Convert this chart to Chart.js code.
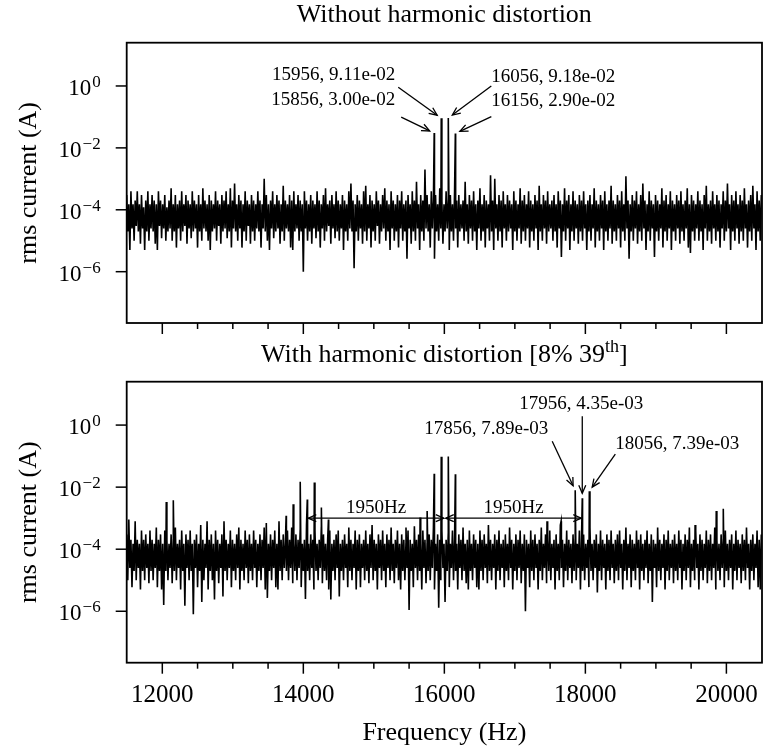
<!DOCTYPE html>
<html>
<head>
<meta charset="utf-8">
<script src="https://cdn.jsdelivr.net/npm/chart.js@4.4.0/dist/chart.umd.min.js"></script>
<style>
    html, body { margin: 0; padding: 0; background: #ffffff; }
    #topBox { position: absolute; left: 0; top: 0; }
    #bottomBox { position: absolute; left: 0; top: 340px; }
</style>
</head>
<body>
<div id="topBox"><canvas id="spectrumTop" width="763" height="340"></canvas></div>
<div id="bottomBox"><canvas id="spectrumBottom" width="763" height="409"></canvas></div>
<script>
// noise floor is sampled every 15 Hz starting at 11495 Hz
var noiseStartHz = 11495;
var noiseStepHz = 15;

// rms current (A) of the noise floor
var noiseTop = [
    3e-4,2e-5,15e-5,5e-6,4e-4,25e-6,15e-5,1e-5,2e-4,3e-5,4e-4,2e-5,15e-5,8e-6,3e-4,25e-6,12e-5,5e-6,2e-4,2e-5,
    4e-4,1e-5,15e-5,25e-6,3e-4,2e-5,2e-4,8e-6,15e-5,5e-6,4e-4,3e-5,2e-4,12e-6,15e-5,25e-6,3e-4,1e-5,12e-5,2e-5,
    2e-4,25e-6,5e-4,1e-5,15e-5,2e-5,3e-4,6e-6,15e-5,25e-6,2e-4,1e-5,4e-4,2e-5,15e-5,3e-5,3e-4,8e-6,2e-4,25e-6,
    15e-5,12e-6,4e-4,2e-5,2e-4,25e-6,15e-5,6e-6,3e-4,2e-5,15e-5,1e-5,5e-4,25e-6,2e-4,2e-5,15e-5,1e-5,3e-4,5e-6,
    2e-4,2e-5,15e-5,25e-6,4e-4,1e-5,2e-4,3e-5,15e-5,8e-6,3e-4,2e-5,2e-4,25e-6,4e-4,12e-6,15e-5,2e-5,5e-4,6e-6,
    2e-4,25e-6,7e-4,2e-5,15e-5,1e-5,3e-4,25e-6,2e-4,6e-6,15e-5,2e-5,4e-4,1e-5,2e-4,3e-5,15e-5,8e-6,3e-4,2e-5,
    2e-4,1e-5,15e-5,25e-6,4e-4,2e-5,2e-4,6e-6,15e-5,25e-6,1e-3,2e-5,3e-4,1e-5,15e-5,5e-6,2e-4,25e-6,4e-4,12e-6,
    15e-5,2e-5,3e-4,25e-6,2e-4,8e-6,15e-5,2e-5,6e-4,1e-5,2e-4,25e-6,15e-5,2e-5,3e-4,6e-6,2e-4,5e-6,4e-4,2e-5,
    15e-5,25e-6,3e-4,1e-5,2e-4,2e-5,15e-5,1e-6,4e-4,25e-6,2e-4,1e-5,15e-5,2e-5,3e-4,8e-6,2e-4,25e-6,15e-5,12e-6,
    4e-4,2e-5,2e-4,6e-6,15e-5,25e-6,3e-4,1e-5,5e-4,2e-5,15e-5,3e-5,2e-4,8e-6,3e-4,25e-6,15e-5,12e-6,4e-4,2e-5,
    2e-4,1e-5,15e-5,25e-6,3e-4,5e-6,2e-4,2e-5,15e-5,1e-5,4e-4,25e-6,7e-4,2e-5,2e-4,13e-7,15e-5,2e-5,3e-4,1e-5,
    2e-4,25e-6,15e-5,8e-6,4e-4,2e-5,6e-4,1e-5,15e-5,25e-6,3e-4,6e-6,2e-4,2e-5,15e-5,1e-5,4e-4,3e-5,2e-4,8e-6,
    15e-5,2e-5,3e-4,25e-6,5e-4,1e-5,2e-4,2e-5,15e-5,5e-6,4e-4,25e-6,2e-4,1e-5,15e-5,2e-5,3e-4,6e-6,2e-4,25e-6,
    4e-4,1e-5,15e-5,2e-5,2e-4,26e-7,3e-4,25e-6,15e-5,8e-6,4e-4,2e-5,2e-4,1e-5,8e-4,25e-6,15e-5,5e-6,3e-4,2e-5,
    2e-4,1e-5,2e-3,25e-6,3e-4,2e-5,15e-5,6e-6,4e-4,25e-6,2e-4,26e-7,3e-4,2e-5,15e-5,1e-5,5e-4,25e-6,2e-4,8e-6,
    15e-5,2e-5,4e-4,25e-6,2e-4,5e-6,3e-4,2e-5,15e-5,1e-5,4e-4,25e-6,2e-4,6e-6,3e-4,2e-5,15e-5,25e-6,2e-4,1e-5,
    8e-4,2e-5,15e-5,8e-6,3e-4,25e-6,2e-4,1e-5,4e-4,2e-5,15e-5,5e-6,2e-4,25e-6,5e-4,1e-5,15e-5,2e-5,3e-4,6e-6,
    2e-4,25e-6,15e-5,1e-5,13e-4,2e-5,2e-4,5e-6,1e-3,25e-6,15e-5,1e-5,3e-4,2e-5,2e-4,6e-6,4e-4,25e-6,15e-5,1e-5,
    3e-4,2e-5,2e-4,25e-6,15e-5,5e-6,4e-4,2e-5,2e-4,1e-5,15e-5,25e-6,5e-4,8e-6,2e-4,2e-5,3e-4,1e-5,15e-5,25e-6,
    4e-4,6e-6,2e-4,2e-5,15e-5,1e-5,3e-4,25e-6,2e-4,5e-6,6e-4,2e-5,15e-5,1e-5,3e-4,25e-6,2e-4,8e-6,4e-4,2e-5,
    15e-5,25e-6,2e-4,1e-5,3e-4,2e-5,15e-5,6e-6,4e-4,25e-6,2e-4,3e-6,15e-5,2e-5,5e-4,1e-5,2e-4,25e-6,3e-4,5e-6,
    15e-5,2e-5,4e-4,1e-5,2e-4,25e-6,15e-5,8e-6,3e-4,2e-5,2e-4,1e-5,4e-4,25e-6,15e-5,5e-6,2e-4,2e-5,3e-4,1e-5,
    15e-5,25e-6,5e-4,6e-6,2e-4,2e-5,15e-5,1e-5,3e-4,25e-6,2e-4,5e-6,4e-4,2e-5,15e-5,1e-5,2e-4,25e-6,6e-4,8e-6,
    2e-4,2e-5,15e-5,1e-5,3e-4,25e-6,2e-4,6e-6,4e-4,2e-5,15e-5,1e-5,12e-4,25e-6,2e-4,26e-7,15e-5,2e-5,3e-4,1e-5,
    2e-4,25e-6,4e-4,8e-6,15e-5,2e-5,3e-4,1e-5,7e-4,25e-6,2e-4,5e-6,15e-5,2e-5,4e-4,1e-5,2e-4,25e-6,15e-5,3e-6,
    3e-4,2e-5,2e-4,1e-5,15e-5,25e-6,5e-4,6e-6,2e-4,2e-5,3e-4,1e-5,15e-5,25e-6,4e-4,5e-6,2e-4,2e-5,15e-5,1e-5,
    3e-4,25e-6,2e-4,8e-6,4e-4,2e-5,15e-5,1e-5,2e-4,25e-6,5e-4,6e-6,15e-5,4e-6,3e-4,2e-5,2e-4,1e-5,15e-5,25e-6,
    4e-4,1e-5,2e-4,2e-5,15e-5,5e-6,3e-4,25e-6,6e-4,1e-5,15e-5,2e-5,2e-4,8e-6,4e-4,25e-6,15e-5,1e-5,3e-4,2e-5,
    2e-4,6e-6,15e-5,25e-6,4e-4,1e-5,2e-4,2e-5,7e-4,25e-6,15e-5,5e-6,3e-4,2e-5,2e-4,1e-5,4e-4,25e-6,15e-5,8e-6,
    3e-4,2e-5,2e-4,1e-5,5e-4,25e-6,15e-5,6e-6,2e-4,2e-5,3e-4,1e-5,6e-4,25e-6,15e-5,5e-6,4e-4,2e-5,2e-4,1e-5,
    3e-4
];

// rms current (A) of the noise floor
var noiseBottom = [
    3e-4,1e-5,9e-4,25e-6,2e-4,6e-6,15e-5,2e-5,8e-4,1e-5,2e-4,25e-6,15e-5,5e-6,4e-4,2e-5,2e-4,1e-5,3e-4,25e-6,
    15e-5,8e-6,4e-4,2e-5,2e-4,1e-5,15e-5,25e-6,5e-4,6e-6,2e-4,2e-5,3e-4,5e-6,15e-5,16e-7,4e-4,2e-5,2e-4,1e-5,
    15e-5,25e-6,3e-4,8e-6,2e-4,2e-5,5e-4,1e-5,15e-5,25e-6,2e-4,5e-6,4e-4,2e-5,15e-5,15e-7,3e-4,25e-6,2e-4,1e-5,
    4e-4,2e-5,15e-5,8e-7,2e-4,25e-6,3e-4,6e-6,15e-5,2e-5,6e-4,2e-6,2e-4,1e-5,15e-5,25e-6,8e-4,5e-6,2e-4,2e-5,
    3e-4,1e-5,15e-5,24e-7,4e-4,2e-5,2e-4,8e-6,15e-5,25e-6,3e-4,3e-6,8e-4,2e-5,2e-4,1e-5,15e-5,25e-6,4e-4,6e-6,
    2e-4,2e-5,15e-5,1e-5,3e-4,25e-6,5e-4,5e-6,2e-4,2e-5,15e-5,1e-5,4e-4,25e-6,2e-4,8e-6,3e-4,2e-5,15e-5,1e-5,
    4e-4,25e-6,2e-4,6e-6,15e-5,2e-5,3e-4,1e-5,2e-4,25e-6,5e-4,5e-6,7e-4,27e-7,15e-5,2e-5,3e-4,1e-5,2e-4,25e-6,
    4e-4,6e-6,15e-5,5e-6,8e-4,2e-5,2e-4,1e-5,3e-4,25e-6,15e-5,2e-5,4e-4,1e-5,2e-4,25e-6,5e-4,8e-6,15e-5,2e-5,
    3e-4,1e-5,2e-4,25e-6,4e-4,6e-6,15e-5,2e-5,2e-4,25e-7,6e-4,2e-5,15e-5,1e-5,3e-4,25e-6,2e-4,5e-6,4e-4,2e-5,
    15e-5,1e-5,2e-4,25e-6,5e-4,8e-6,3e-4,2e-5,15e-5,1e-5,2e-4,5e-6,4e-4,24e-7,15e-5,2e-5,2e-4,1e-5,3e-4,25e-6,
    4e-4,3e-6,15e-5,2e-5,2e-4,1e-5,3e-4,25e-6,15e-5,6e-6,5e-4,2e-5,2e-4,1e-5,15e-5,25e-6,4e-4,5e-6,2e-4,2e-5,
    3e-4,6e-6,15e-5,25e-6,2e-4,1e-5,4e-4,2e-5,15e-5,8e-6,3e-4,25e-6,6e-4,1e-5,2e-4,2e-5,15e-5,5e-6,3e-4,25e-6,
    2e-4,1e-5,4e-4,2e-5,15e-5,6e-6,3e-4,25e-6,2e-4,1e-5,5e-4,2e-5,15e-5,8e-6,2e-4,25e-6,4e-4,1e-5,15e-5,5e-6,
    3e-4,2e-5,2e-4,1e-5,15e-5,25e-6,4e-4,11e-7,2e-4,2e-5,15e-5,6e-6,55e-5,25e-6,2e-4,1e-5,3e-4,2e-5,15e-5,5e-6,
    4e-4,25e-6,2e-4,8e-6,15e-5,2e-5,3e-4,1e-5,2e-4,25e-6,5e-4,5e-6,15e-5,2e-5,3e-4,13e-7,2e-4,1e-5,4e-4,25e-6,
    15e-5,2e-6,2e-4,2e-5,3e-4,6e-6,15e-5,25e-6,4e-4,1e-5,2e-4,2e-5,15e-5,5e-6,3e-4,25e-6,2e-4,1e-5,5e-4,2e-5,
    15e-5,8e-6,2e-4,5e-6,4e-4,2e-5,15e-5,1e-5,3e-4,25e-6,2e-4,6e-6,15e-5,5e-6,4e-4,2e-5,2e-4,1e-5,3e-4,25e-6,
    15e-5,8e-6,6e-4,2e-5,2e-4,1e-5,15e-5,25e-6,3e-4,5e-6,2e-4,2e-5,4e-4,1e-5,15e-5,25e-6,2e-4,6e-6,3e-4,2e-5,
    15e-5,1e-5,5e-4,25e-6,2e-4,5e-6,15e-5,2e-5,3e-4,1e-5,2e-4,25e-6,4e-4,8e-6,15e-5,2e-5,3e-4,1e-6,2e-4,25e-6,
    15e-5,6e-6,4e-4,2e-5,2e-4,1e-5,3e-4,25e-6,15e-5,5e-6,2e-4,2e-5,5e-4,1e-5,15e-5,25e-6,3e-4,8e-6,2e-4,2e-5,
    4e-4,1e-5,15e-5,25e-6,2e-4,5e-6,3e-4,2e-5,15e-5,1e-5,6e-4,25e-6,2e-4,6e-6,15e-5,2e-5,4e-4,1e-5,2e-4,25e-6,
    15e-5,8e-6,3e-4,2e-5,2e-4,1e-5,15e-5,25e-6,4e-4,5e-6,2e-4,2e-5,3e-4,1e-5,15e-5,25e-6,2e-4,6e-6,5e-4,2e-5,
    15e-5,1e-5,2e-4,25e-6,3e-4,4e-6,15e-5,2e-5,4e-4,1e-5,2e-4,25e-6,15e-5,5e-6,3e-4,2e-5,2e-4,1e-5,4e-4,25e-6,
    15e-5,8e-6,2e-4,2e-5,3e-4,1e-5,4e-4,25e-6,15e-5,5e-6,2e-4,2e-5,5e-4,1e-5,15e-5,25e-6,3e-4,6e-6,2e-4,2e-5,
    15e-5,1e-5,4e-4,25e-6,2e-4,5e-6,3e-4,2e-5,15e-5,1e-5,2e-4,25e-6,4e-4,8e-6,15e-5,2e-5,3e-4,2e-6,2e-4,25e-6,
    15e-5,6e-6,5e-4,2e-5,2e-4,1e-5,15e-5,25e-6,3e-4,5e-6,2e-4,2e-5,4e-4,1e-5,15e-5,25e-6,2e-4,8e-6,3e-4,2e-5,
    15e-5,1e-5,4e-4,25e-6,2e-4,5e-6,15e-5,2e-5,3e-4,1e-5,2e-4,25e-6,5e-4,6e-6,15e-5,2e-5,2e-4,1e-5,4e-4,25e-6,
    15e-5,5e-6,3e-4,2e-5,2e-4,1e-5,15e-5,25e-6,4e-4,8e-6,2e-4,2e-5,3e-4,1e-5,15e-5,25e-6,5e-4,5e-6,2e-4,2e-5,
    15e-5,1e-5,3e-4,25e-6,2e-4,6e-6,4e-4,2e-5,15e-5,1e-5,2e-4,25e-6,3e-4,5e-6,15e-5,2e-5,4e-4,1e-5,2e-4,25e-6,
    15e-5,8e-6,3e-4,2e-5,2e-4,1e-5,5e-4,25e-6,15e-5,5e-6,2e-4,2e-5,3e-4,1e-5,15e-5,25e-6,4e-4,6e-6,2e-4,5e-6,
    3e-4
];

// tones standing above the noise floor
var toneHzTop = [15856, 15956, 16056, 16156];
var toneAmpTop = [3.00e-2, 9.11e-2, 9.18e-2, 2.90e-2];

var toneHzBottom = [12056, 12156, 13756, 13856, 13956, 14056, 14156, 14256, 14356, 15456, 15656, 15756,
    15856, 15956, 16056, 16156, 17456, 17656, 17856, 17956, 18056, 19556, 19856, 19956];
var toneAmpBottom = [3.3e-3, 3.8e-3, 1.2e-3, 2.8e-3, 1.5e-2, 4.0e-3, 1.4e-2, 2.2e-3, 9.0e-4, 5.0e-4, 1.05e-3, 1.7e-3,
    2.7e-2, 9.6e-2, 9.7e-2, 2.6e-2, 8.0e-4, 8.0e-4, 7.89e-3, 4.35e-3, 7.39e-3, 6.0e-4, 1.7e-3, 2.0e-3];

// spacing markers in the bottom panel
var spacingHz = [14056, 16006, 17956];
var spacingLevel = 1e-3;

// axes
var xMin = 11495, xMax = 20505;
var yMin = 2.2e-8, yMax = 25;
var xMajorTicks = [12000, 14000, 16000, 18000, 20000];
var xMinorTicks = [12500, 13000, 13500, 14500, 15000, 15500, 16500, 17000, 17500, 18500, 19000, 19500];
var yTickExps = [0, -2, -4, -6];

var SERIF = '"Liberation Serif", "Times New Roman", Times, serif';

function buildSeries(noise, toneHz, toneAmp) {
    var pts = noise.map(function (v, i) {
        return { x: noiseStartHz + i * noiseStepHz, y: v };
    });
    toneHz.forEach(function (f, k) {
        pts.push({ x: f, y: toneAmp[k] });
    });
    pts.sort(function (a, b) { return a.x - b.x; });
    return pts;
}

// 9.11e-2 -> "9.11e-02"
function sciLabel(v) {
    var parts = v.toExponential(2).split('e');
    var e = parseInt(parts[1], 10);
    return parts[0] + 'e' + (e < 0 ? '-' : '+') + (Math.abs(e) < 10 ? '0' : '') + Math.abs(e);
}

function arrowHead(ctx, x0, y0, x1, y1) {
    var a = Math.atan2(y1 - y0, x1 - x0), len = 8, half = 3.5;
    ctx.beginPath();
    ctx.moveTo(x1 - len * Math.cos(a) + half * Math.sin(a), y1 - len * Math.sin(a) - half * Math.cos(a));
    ctx.lineTo(x1, y1);
    ctx.lineTo(x1 - len * Math.cos(a) - half * Math.sin(a), y1 - len * Math.sin(a) + half * Math.cos(a));
    ctx.stroke();
}

function drawArrow(ctx, x0, y0, x1, y1, shrink, both) {
    var d = Math.sqrt((x1 - x0) * (x1 - x0) + (y1 - y0) * (y1 - y0));
    var ux = (x1 - x0) / d, uy = (y1 - y0) / d;
    x0 += ux * (both ? shrink : 0); y0 += uy * (both ? shrink : 0);
    x1 -= ux * shrink; y1 -= uy * shrink;
    ctx.beginPath();
    ctx.moveTo(x0, y0);
    ctx.lineTo(x1, y1);
    ctx.stroke();
    arrowHead(ctx, x0, y0, x1, y1);
    if (both) arrowHead(ctx, x1, y1, x0, y0);
}

// frame, ticks, labels and callouts of one panel
function makePanelPlugin(cfg) {
    return {
        id: 'panel_' + cfg.name,
        afterDatasetsDraw: function (chart) {
            var ctx = chart.ctx, a = chart.chartArea;
            var xs = chart.scales.x, ys = chart.scales.y;
            var midX = (a.left + a.right) / 2;
            ctx.save();
            ctx.strokeStyle = '#000000';
            ctx.fillStyle = '#000000';

            // box
            ctx.lineWidth = 1.8;
            ctx.strokeRect(a.left, a.top, a.right - a.left, a.bottom - a.top);

            // x ticks
            ctx.lineWidth = 1.5;
            xMinorTicks.forEach(function (f) {
                var x = xs.getPixelForValue(f);
                ctx.beginPath(); ctx.moveTo(x, a.bottom); ctx.lineTo(x, a.bottom + 6); ctx.stroke();
            });
            ctx.textAlign = 'center';
            ctx.textBaseline = 'middle';
            ctx.font = '25px ' + SERIF;
            xMajorTicks.forEach(function (f) {
                var x = xs.getPixelForValue(f);
                ctx.beginPath(); ctx.moveTo(x, a.bottom); ctx.lineTo(x, a.bottom + 11); ctx.stroke();
                if (cfg.xLabels) ctx.fillText(String(f), x, a.bottom + 33);
            });

            // y ticks 10^n
            yTickExps.forEach(function (e) {
                var y = ys.getPixelForValue(Math.pow(10, e));
                ctx.beginPath(); ctx.moveTo(a.left - 11, y); ctx.lineTo(a.left, y); ctx.stroke();
                var sup = e === 0 ? '0' : '\u2212' + Math.abs(e);
                ctx.textAlign = 'left';
                ctx.textBaseline = 'alphabetic';
                ctx.font = '17px ' + SERIF;
                var ws = ctx.measureText(sup).width;
                ctx.font = '23px ' + SERIF;
                var wb = ctx.measureText('10').width;
                var right = a.left - 26;
                ctx.fillText('10', right - ws - wb - 1, y + 9);
                ctx.font = '17px ' + SERIF;
                ctx.fillText(sup, right - ws, y + 1);
            });

            // y axis label
            ctx.save();
            ctx.translate(29, (a.top + a.bottom) / 2);
            ctx.rotate(-Math.PI / 2);
            ctx.textAlign = 'center';
            ctx.textBaseline = 'middle';
            ctx.font = '26px ' + SERIF;
            ctx.fillText('rms current (A)', 0, 0);
            ctx.restore();

            // title (with optional superscript part)
            ctx.textBaseline = 'middle';
            ctx.textAlign = 'left';
            var parts = cfg.title;
            var widths = parts.map(function (p, i) {
                ctx.font = (i % 2 ? '18px ' : '26px ') + SERIF;
                return ctx.measureText(p).width;
            });
            var total = widths.reduce(function (s, w) { return s + w; }, 0);
            var tx = midX - total / 2;
            parts.forEach(function (p, i) {
                ctx.font = (i % 2 ? '18px ' : '26px ') + SERIF;
                ctx.fillText(p, tx, i % 2 ? 7 : 15);
                tx += widths[i];
            });

            // x axis label
            if (cfg.xLabels) {
                ctx.textAlign = 'center';
                ctx.font = '26px ' + SERIF;
                ctx.fillText('Frequency (Hz)', midX, a.bottom + 70);
            }

            // callouts pointing at tones
            ctx.font = '19px ' + SERIF;
            ctx.lineWidth = 1.3;
            cfg.callouts.forEach(function (c) {
                var k = cfg.toneHz.indexOf(c.hz);
                var amp = cfg.toneAmp[k];
                var px = xs.getPixelForValue(c.hz), py = ys.getPixelForValue(amp);
                ctx.textAlign = c.align;
                ctx.textBaseline = 'middle';
                ctx.fillText(c.hz + ', ' + sciLabel(amp), px + c.text[0], py + c.text[1]);
                drawArrow(ctx, px + c.from[0], py + c.from[1], px, py, 5, false);
            });

            // 1950 Hz spacing arrows
            if (cfg.spacing) {
                var sy = ys.getPixelForValue(spacingLevel);
                for (var i = 0; i + 1 < spacingHz.length; i++) {
                    var x0 = xs.getPixelForValue(spacingHz[i]);
                    var x1 = xs.getPixelForValue(spacingHz[i + 1]);
                    drawArrow(ctx, x0, sy, x1, sy, 1, true);
                    ctx.textAlign = 'center';
                    ctx.textBaseline = 'middle';
                    ctx.fillText((spacingHz[i + 1] - spacingHz[i]) + 'Hz', (x0 + x1) / 2, sy - 10);
                }
            }
            ctx.restore();
        }
    };
}

function drawSpectrum(canvasId, series, padding, plugin) {
    return new Chart(document.getElementById(canvasId).getContext('2d'), {
        type: 'line',
        data: {
            datasets: [{
                data: series,
                borderColor: '#000000',
                borderWidth: 1.6,
                pointRadius: 0,
                tension: 0,
                fill: false
            }]
        },
        options: {
            responsive: false,
            animation: false,
            events: [],
            layout: { padding: padding },
            scales: {
                x: { type: 'linear', min: xMin, max: xMax, display: false },
                y: { type: 'logarithmic', min: yMin, max: yMax, display: false }
            },
            plugins: {
                legend: { display: false },
                tooltip: { enabled: false }
            }
        },
        plugins: [plugin]
    });
}

var topPanel = makePanelPlugin({
    name: 'top',
    title: ['Without harmonic distortion'],
    xLabels: false,
    toneHz: toneHzTop,
    toneAmp: toneAmpTop,
    callouts: [
        { hz: 15956, align: 'right', text: [-46, -43], from: [-43, -31] },
        { hz: 15856, align: 'right', text: [-39, -33], from: [-33, -16] },
        { hz: 16056, align: 'left', text: [43, -41], from: [43, -32] },
        { hz: 16156, align: 'left', text: [36, -33], from: [36, -17] }
    ],
    spacing: false
});

var bottomPanel = makePanelPlugin({
    name: 'bottom',
    title: ['With harmonic distortion [8% 39', 'th', ']'],
    xLabels: true,
    toneHz: toneHzBottom,
    toneAmp: toneAmpBottom,
    callouts: [
        { hz: 17856, align: 'right', text: [-27, -61], from: [-23, -49] },
        { hz: 17956, align: 'center', text: [-1, -94], from: [0, -82] },
        { hz: 18056, align: 'left', text: [26, -47], from: [26, -37] }
    ],
    spacing: true
});

var chartTop = drawSpectrum('spectrumTop', buildSeries(noiseTop, toneHzTop, toneAmpTop),
    { left: 126.7, right: 1, top: 42.7, bottom: 17 }, topPanel);
var chartBottom = drawSpectrum('spectrumBottom', buildSeries(noiseBottom, toneHzBottom, toneAmpBottom),
    { left: 126.7, right: 1, top: 41.7, bottom: 86.3 }, bottomPanel);
</script>
</body>
</html>
